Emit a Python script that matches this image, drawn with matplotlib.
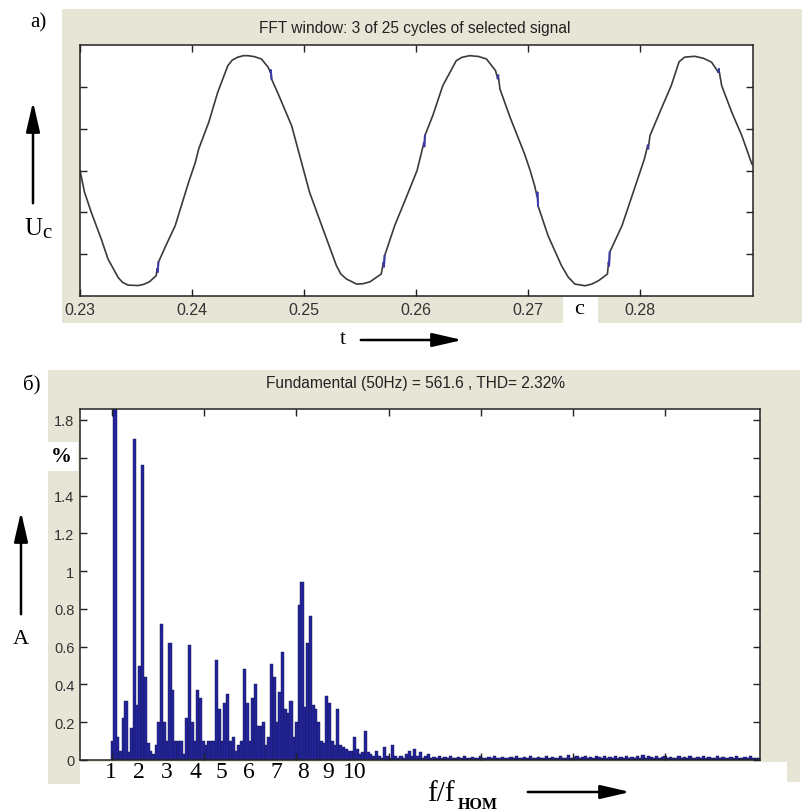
import numpy as np
import matplotlib
matplotlib.use("Agg")
import matplotlib.pyplot as plt
from matplotlib.patches import Rectangle, FancyArrowPatch

# -------------------------------
# Data: selected signal window (top panel)
# -------------------------------
t_sig = [0.2300, 0.2304, 0.2310, 0.2319, 0.2325, 0.2334, 0.2338, 0.2343, 0.2352, 0.2357,
         0.2362, 0.2368, 0.2369, 0.23695, 0.2370, 0.2376, 0.2385, 0.2397, 0.2403, 0.2406,
         0.2415, 0.2423, 0.2432, 0.2436, 0.2441, 0.2446, 0.2450, 0.2456, 0.2462, 0.2468,
         0.2470, 0.24705, 0.2471, 0.2477, 0.2489, 0.2496, 0.2505, 0.2517, 0.2529, 0.2533,
         0.2538, 0.2547, 0.2553, 0.2559, 0.2569, 0.2571, 0.25715, 0.2572, 0.2581, 0.2592,
         0.2601, 0.2605, 0.2607, 0.26075, 0.2608, 0.2615, 0.2624, 0.2636, 0.2641, 0.2648,
         0.2656, 0.2663, 0.2671, 0.2673, 0.26735, 0.2675, 0.2684, 0.2697, 0.2702, 0.2706,
         0.2708, 0.27085, 0.2709, 0.2718, 0.2730, 0.2736, 0.2742, 0.2751, 0.2757, 0.2763,
         0.2771, 0.2772, 0.27725, 0.2773, 0.2784, 0.2798, 0.2804, 0.2807, 0.28075, 0.2809,
         0.2819, 0.2828, 0.2835, 0.2840, 0.2849, 0.2857, 0.2864, 0.2870, 0.28705, 0.2873,
         0.2882, 0.2891, 0.2900]
u_sig = [0, -103, -199, -328, -423, -511, -535, -548, -550, -544,
         -532, -503, -470, -485, -439, -367, -264, -56, 39, 103,
         231, 374, 501, 528, 542, 549, 549, 544, 533, 494,
         470, 480, 438, 366, 214, 75, -104, -280, -455, -495,
         -519, -543, -541, -532, -495, -440, -460, -408, -264, -120,
         0, 87, 130, 115, 167, 262, 406, 525, 541, 549,
         545, 533, 478, 440, 455, 390, 255, 79, 0, -73,
         -120, -105, -168, -312, -455, -510, -543, -551, -543, -527,
         -495, -440, -455, -391, -264, -41, 55, 120, 105, 167,
         294, 406, 520, 542, 546, 536, 518, 470, 485, 406,
         279, 167, 31]
# places where the trace shows small blue jags
notch_t = [0.2369, 0.2470, 0.2571, 0.2607, 0.2673, 0.2708, 0.2772, 0.2807, 0.2870]
t_ticks = [0.23, 0.24, 0.25, 0.26, 0.27, 0.28]
t_labels = ["0.23", "0.24", "0.25", "0.26", "0.27", "0.28"]

# -------------------------------
# Data: spectrum, % of fundamental, bins of 0.1 harmonic from 0.9
# -------------------------------
amp_low = [0.10, 100.0, 0.12, 0.05, 0.22, 0.31, 0.04, 0.17, 1.70, 0.29,
           0.50, 1.56, 0.44, 0.09, 0.05, 0.03, 0.08, 0.20, 0.72, 0.20,
           0.10, 0.62, 0.37, 0.10, 0.10, 0.10, 0.03, 0.22, 0.61, 0.20,
           0.10, 0.37, 0.33, 0.10, 0.08, 0.10, 0.10, 0.10, 0.53, 0.27,
           0.10, 0.30, 0.35, 0.10, 0.12, 0.05, 0.08, 0.10, 0.48, 0.30,
           0.10, 0.33, 0.40, 0.18, 0.18, 0.20, 0.08, 0.12, 0.51, 0.44,
           0.20, 0.36, 0.57, 0.27, 0.25, 0.31, 0.12, 0.20, 0.82, 0.94,
           0.28, 0.62, 0.76, 0.29, 0.27, 0.20, 0.10, 0.09, 0.34, 0.30,
           0.10, 0.08, 0.27, 0.08, 0.07, 0.06, 0.05, 0.05, 0.12, 0.06,
           0.03, 0.04, 0.155, 0.04, 0.03]
amp_tail = [0.02, 0.05, 0.02, 0.01, 0.07, 0.02, 0.01, 0.08, 0.02, 0.01,
            0.02, 0.01, 0.03, 0.05, 0.02, 0.06, 0.02, 0.04, 0.01, 0.02,
            0.03, 0.01, 0.015, 0.01, 0.02, 0.01, 0.015, 0.01, 0.02, 0.01,
            0.01, 0.015, 0.01, 0.02, 0.01, 0.01, 0.015, 0.01, 0.01, 0.02,
            0.01, 0.01, 0.015, 0.01, 0.02, 0.01, 0.01, 0.015, 0.01, 0.01,
            0.015, 0.01, 0.02, 0.01, 0.01, 0.015, 0.01, 0.02, 0.01, 0.01,
            0.015, 0.01, 0.01, 0.02, 0.01, 0.015, 0.01, 0.01, 0.02, 0.01,
            0.01, 0.025, 0.01, 0.015, 0.02, 0.01, 0.015, 0.02, 0.01, 0.015,
            0.01, 0.02, 0.015, 0.01, 0.02, 0.01, 0.015, 0.01, 0.02, 0.01,
            0.015, 0.01, 0.02, 0.01, 0.015, 0.01, 0.02, 0.01, 0.025, 0.01,
            0.02, 0.015, 0.01, 0.02, 0.01, 0.015, 0.02, 0.01, 0.015, 0.01,
            0.01, 0.02, 0.01, 0.015, 0.01, 0.02, 0.01, 0.01, 0.015, 0.01,
            0.02, 0.01, 0.015, 0.01, 0.01, 0.02, 0.01, 0.015, 0.01, 0.01,
            0.015, 0.01, 0.02, 0.01, 0.01, 0.015, 0.01, 0.02, 0.01, 0.01,
            0.01]
a_ticks = [0, 0.2, 0.4, 0.6, 0.8, 1.0, 1.2, 1.4, 1.6, 1.8]
a_labels = ["0", "0.2", "0.4", "0.6", "0.8", "1", "1.2", "1.4", "", "1.8"]
harm_labels = ["1", "2", "3", "4", "5", "6", "7", "8", "9", "10"]

amp = np.array(amp_low + amp_tail)
harm = np.arange(9, 9 + len(amp)) / 10.0

# -------------------------------
# Figure, pixel helpers
# -------------------------------
W, H = 803, 812
fig = plt.figure(figsize=(W / 100, H / 100), dpi=100)
fig.patch.set_facecolor("white")


def fx(x):
    return x / W


def fy(y):
    return 1 - y / H


beige = "#e6e5d6"


def box(x0, y0, x1, y1, color=beige, z=-5):
    fig.add_artist(Rectangle((fx(x0), fy(y1)), fx(x1) - fx(x0), fy(y0) - fy(y1),
                             transform=fig.transFigure, facecolor=color,
                             edgecolor="none", zorder=z))


def arrow(x0, y0, x1, y1):
    fig.add_artist(FancyArrowPatch((fx(x0), fy(y0)), (fx(x1), fy(y1)),
                                   transform=fig.transFigure,
                                   arrowstyle="-|>,head_length=1.3,head_width=0.3",
                                   mutation_scale=14, lw=1.8, color="black", zorder=5))


serif = "Liberation Serif"
sans = "Liberation Sans"

# background panels like the MATLAB window
box(62, 10, 803, 324)
box(563, 298, 598, 326, color="white", z=-4)
box(48, 371, 800, 763)
box(48, 763, 80, 785)
box(787, 763, 800, 783)

# -------------------------------
# Top panel: signal
# -------------------------------
ax1 = fig.add_axes([fx(80), fy(297), fx(753) - fx(80), fy(46) - fy(297)])
ax1.set_facecolor("white")
t_arr = np.array(t_sig)
u_arr = np.array(u_sig, dtype=float)
ax1.plot(t_arr, u_arr, color="#3a3a3a", lw=1.2)
near = np.zeros(len(t_arr), dtype=bool)
for nt in notch_t:
    near |= (t_arr >= nt - 1e-5) & (t_arr <= nt + 1.2e-4)
ax1.plot(t_arr, np.where(near, u_arr, np.nan), color="#3b3bb0", lw=1.4)
ax1.set_xlim(0.23, 0.2901)
ax1.set_ylim(-600, 600)
ax1.set_xticks(t_ticks)
ax1.set_xticklabels(t_labels, family=sans, fontsize=11.5, color="#333333")
ax1.set_yticks([-400, -200, 0, 200, 400])
ax1.set_yticklabels([])
ax1.tick_params(direction="in", top=True, right=True, length=5, width=1,
                color="#222222", pad=4)
for s in ax1.spines.values():
    s.set_color("#222222")
    s.set_linewidth(1.1)

fig.text(fx(415), fy(29), "FFT window: 3 of 25 cycles of selected signal",
         ha="center", va="center", family=sans, fontsize=11.2, color="#222222")

# -------------------------------
# Bottom panel: spectrum
# -------------------------------
ax2 = fig.add_axes([fx(80), fy(761), fx(760) - fx(80), fy(410) - fy(761)])
ax2.set_facecolor("white")
ax2.bar(harm, amp, width=0.12, color="#24249a", edgecolor="#121250", lw=0.3)
ax2.set_xlim(-0.27, 24.45)
ax2.set_ylim(0, 1.858)
ax2.set_yticks(a_ticks)
ax2.set_yticklabels(a_labels, family=sans, fontsize=10.5, color="#333333")
ax2.set_xticks([0.89, 4.25, 7.6, 10.95, 14.3, 17.65, 21.0])
ax2.set_xticklabels([])
ax2.tick_params(direction="in", top=True, right=True, length=5, width=1,
                color="#222222", pad=4)
for s in ax2.spines.values():
    s.set_color("#222222")
    s.set_linewidth(1.1)

fig.text(fx(416), fy(384), "Fundamental (50Hz) = 561.6 , THD= 2.32%",
         ha="center", va="center", family=sans, fontsize=11.2, color="#222222")

# -------------------------------
# Annotations
# -------------------------------
fig.text(fx(38), fy(23), "а)", ha="center", va="center", family=serif, fontsize=15)
arrow(33, 207, 33, 100)
fig.text(fx(33), fy(229), "U", ha="center", va="center", family=serif, fontsize=18)
fig.text(fx(47), fy(233), "с", ha="center", va="center", family=serif, fontsize=15)
fig.text(fx(343), fy(340), "t", ha="center", va="center", family=serif, fontsize=16)
arrow(358, 341, 465, 341)
fig.text(fx(579), fy(310), "с", ha="center", va="center", family=serif, fontsize=16)

fig.text(fx(32), fy(385), "б)", ha="center", va="center", family=serif, fontsize=15)
arrow(21, 618, 21, 510)
fig.text(fx(21), fy(640), "A", ha="center", va="center", family=serif, fontsize=16)
box(43, 443, 78, 472, color="white", z=-4)
fig.text(fx(61), fy(457), "%", ha="center", va="center", family=serif,
         fontsize=15, fontweight="bold")

label_x = [111, 139, 167, 195, 221, 249, 276, 303, 328, 355]
for lx, lab in zip(label_x, harm_labels):
    fig.text(fx(lx), fy(773), lab, ha="center", va="center", family=serif, fontsize=17)

fig.text(fx(441), fy(794), "f/f", ha="center", va="center", family=serif, fontsize=21)
fig.text(fx(478), fy(805), "НОМ", ha="center", va="center", family=serif,
         fontsize=11.5, fontweight="bold")
arrow(525, 793, 633, 793)

fig.savefig("out.png", dpi=100)
